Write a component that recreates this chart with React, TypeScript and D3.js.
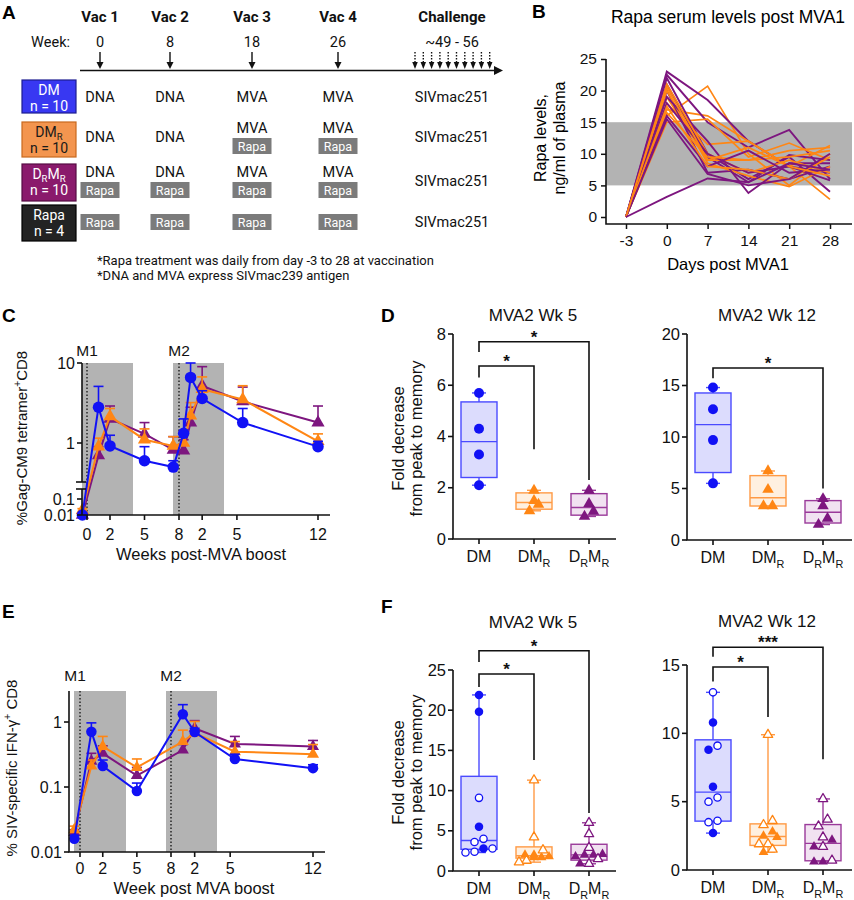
import { useEffect, useRef } from "react";
import * as d3 from "d3";

const FONT = "'Liberation Sans', Arial, Helvetica, sans-serif";
const FONT_A = "Roboto, 'Liberation Sans', Arial, sans-serif";

const BLUE = "#1111f5";
const ORANGE = "#ff8614";
const PURPLE = "#7d167f";
const BAND = "#b3b3b3";

// ---------- A: study design ----------
type Part = [string, "n" | "sub" | "sup"];
const vacHeaders = ["Vac 1", "Vac 2", "Vac 3", "Vac 4", "Challenge"];
const vacWeeks = ["0", "8", "18", "26", "~49 - 56"];
const groupNames: Part[][] = [
  [["DM", "n"]],
  [["DM", "n"], ["R", "sub"]],
  [["D", "n"], ["R", "sub"], ["M", "n"], ["R", "sub"]],
  [["Rapa", "n"]],
];
const groupN = ["n = 10", "n = 10", "n = 10", "n = 4"];
const vaccines = [
  ["DNA", "DNA", "MVA", "MVA"],
  ["DNA", "DNA", "MVA", "MVA"],
  ["DNA", "DNA", "MVA", "MVA"],
  ["", "", "", ""],
];
const rapaGiven = [
  [false, false, false, false],
  [false, false, true, true],
  [true, true, true, true],
  [true, true, true, true],
];
const challengeVirus = "SIVmac251";
const challengeCount = 10;
const footnotes = [
  "*Rapa treatment was daily from day -3 to 28 at vaccination",
  "*DNA and MVA express SIVmac239 antigen",
];

// ---------- B: rapa serum levels ----------
const daysB = [-3, 0, 7, 14, 21, 28];
const rapaDMR = [
  [0, 16, 20.7, 10, 5, 10],
  [0, 17, 16, 12, 8, 2.8],
  [0, 15, 15.5, 9.5, 11.7, 9],
  [0, 18, 11.5, 12, 8, 11.3],
  [0, 19, 9, 9, 10.5, 11],
  [0, 20, 8.5, 6.5, 4.8, 8],
  [0, 21, 10, 7, 9, 7],
  [0, 16.5, 9.5, 9, 9.5, 10.5],
  [0, 17.5, 8, 7.5, 6, 9.5],
  [0, 20.5, 9, 11, 8, 6.5],
];
const rapaDRMR = [
  [0, 23, 18.5, 12, 8, 7],
  [0, 22.5, 15, 11, 13.8, 6],
  [0, 22, 10, 6, 9.5, 4],
  [0, 21, 9.5, 5.5, 9.8, 9],
  [0, 20, 7, 7.5, 6, 8],
  [0, 19, 12, 3.8, 8.5, 8.5],
  [0, 18, 10, 7, 8, 5.8],
  [0, 16, 8, 10.5, 7, 7.5],
  [0, 15.5, 6.8, 5, 6, 10],
  [0, 3.2, 6.1, 5.5, 8.5, 7.5],
];
const ticksB = [0, 5, 10, 15, 20, 25];

// ---------- C: Gag-CM9 tetramer ----------
const weeksC = [-0.4, 1, 2, 5, 7.5, 8.4, 9, 10, 13.5, 20];
const tetDM = [0.01, 2.8, 0.92, 0.6, 0.5, 1.32, 6.6, 3.6, 1.8, 0.9];
const tetDMHi = [0.012, 5.1, 1.25, 0.9, 0.6, 2.0, 10, 4.5, 2.7, 1.05];
const tetDMR = [0.02, 0.9, 2.15, 1.1, 0.92, 1.0, 2.2, 4.7, 3.5, 1.05];
const tetDMRHi = [0.025, 1.15, 2.7, 1.5, 1.2, 1.4, 3.2, 6.7, 5.2, 1.3];
const tetDRMR = [0.01, 0.7, 2.0, 1.3, 0.82, 0.8, 1.8, 5.2, 3.3, 1.8];
const tetDRMRHi = [0.012, 0.9, 2.9, 1.8, 1.2, 1.1, 2.8, 9, 5.0, 2.9];
const weekTicks = [0, 2, 5, 8, 10, 13, 20];
const weekTickLabels = ["0", "2", "5", "8", "2", "5", "12"];

// ---------- E: IFN-g ----------
const weeksE = [-0.5, 1, 2, 5, 9, 10, 13.4, 20];
const ifnDM = [0.016, 0.71, 0.21, 0.087, 1.32, 0.7, 0.27, 0.195];
const ifnDMHi = [0.018, 0.97, 0.26, 0.115, 1.85, 0.8, 0.32, 0.22];
const ifnDMR = [0.022, 0.21, 0.42, 0.2, 0.5, 0.68, 0.35, 0.32];
const ifnDMRHi = [0.025, 0.26, 0.6, 0.27, 0.75, 1.02, 0.5, 0.45];
const ifnDRMR = [0.02, 0.25, 0.33, 0.15, 0.37, 0.8, 0.46, 0.42];
const ifnDRMRHi = [0.022, 0.33, 0.43, 0.2, 0.45, 1.05, 0.6, 0.52];

// ---------- D / F: fold decrease ----------
const boxGroups: Part[][] = [groupNames[0], groupNames[1], groupNames[2]];
const foldD5 = [[5.7, 4.3, 3.3, 2.1], [1.9, 1.5, 1.35, 1.1], [1.9, 1.38, 1.08, 0.88]];
const foldD12 = [[14.8, 12.7, 9.7, 5.5], [6.7, 4.9, 3.3, 3.3], [4.0, 3.3, 2.1, 1.5]];
const foldF5Filled = [[21.9, 19.8, 5.5, 2.8], [2.0, 2.0, 1.7, 1.8, 1.7], [2.0, 2.0, 1.8, 2.1, 0.9]];
const foldF5Open = [[9.1, 4.0, 3.6, 2.8, 2.4, 2.3], [11.3, 4.2, 2.6, 1.3, 1.1], [6.0, 4.6, 2.9, 1.5, 0.9]];
const foldF12Filled = [[10.8, 8.8, 6.1, 2.7], [2.4, 1.3, 2.5, 2.8], [2.2, 1.7, 0.6, 0.6]];
const foldF12Open = [[13.0, 9.1, 5.3, 5.0, 3.6, 3.5], [9.9, 3.6, 3.3, 1.9, 1.9, 1.5], [5.2, 3.7, 3.2, 2.4, 1.7, 0.7]];

type Bracket = { a: number; b: number; top: number; la: number; lb: number; label: string };
const sigD5: Bracket[] = [
  { a: 0, b: 2, top: 7.7, la: 7.3, lb: 2.3, label: "*" },
  { a: 0, b: 1, top: 6.75, la: 6.3, lb: 3.5, label: "*" },
];
const sigD12: Bracket[] = [{ a: 0, b: 2, top: 16.7, la: 15.7, lb: 5.0, label: "*" }];
const sigF5: Bracket[] = [
  { a: 0, b: 2, top: 27.4, la: 26, lb: 7.2, label: "*" },
  { a: 0, b: 1, top: 24.5, la: 22.9, lb: 13.8, label: "*" },
];
const sigF12: Bracket[] = [
  { a: 0, b: 2, top: 16.3, la: 15.6, lb: 8.1, label: "***" },
  { a: 0, b: 1, top: 14.85, la: 13.8, lb: 11.2, label: "*" },
];

const groupColors = [BLUE, ORANGE, PURPLE];
const boxStroke = ["#4a4aff", "#ff9a45", "#9a3a9a"];
const boxFill = ["#dcdcfd", "#fff0e0", "#f1e2f1"];
const groupShape = ["circle", "triangle", "triangle"];

type Sel = d3.Selection<any, any, any, any>;

function rich(t: Sel, parts: Part[], fs: number, subShift = 0.3) {
  const shift = (k: string) => (k === "sub" ? fs * subShift : k === "sup" ? -fs * 0.4 : 0);
  parts.forEach(([s, k], i) => {
    const prev = i > 0 ? parts[i - 1][1] : "n";
    t.append("tspan")
      .text(s)
      .attr("dy", shift(k) - shift(prev))
      .attr("font-size", k === "n" ? fs : fs * 0.68);
  });
  return t;
}

function marker(g: Sel, shape: string, cx: number, cy: number, size: number, color: string, filled: boolean) {
  const sw = filled ? 0 : 1.3;
  if (shape === "circle") {
    g.append("circle")
      .attr("cx", cx)
      .attr("cy", cy)
      .attr("r", filled ? size / 2 : size / 2 - 0.6)
      .attr("fill", filled ? color : "#fff")
      .attr("stroke", color)
      .attr("stroke-width", sw);
  } else {
    const s = filled ? size * 1.15 : size * 1.1;
    const h = (s * Math.sqrt(3)) / 2;
    const pts = [
      [cx, cy - (2 * h) / 3],
      [cx + s / 2, cy + h / 3],
      [cx - s / 2, cy + h / 3],
    ];
    g.append("path")
      .attr("d", "M" + pts.map((p) => p.join(",")).join("L") + "Z")
      .attr("fill", filled ? color : "#fff")
      .attr("stroke", color)
      .attr("stroke-width", sw)
      .attr("stroke-linejoin", "round");
  }
}

// GraphPad-style quartiles, (n+1) basis
function quart(sorted: number[], p: number) {
  const n = sorted.length;
  const pos = (n + 1) * p;
  if (pos <= 1) return sorted[0];
  if (pos >= n) return sorted[n - 1];
  const lo = Math.floor(pos);
  return sorted[lo - 1] + (pos - lo) * (sorted[lo] - sorted[lo - 1]);
}

// points that sit at nearly the same height are spread side by side
function swarm(vals: number[], y: (v: number) => number, thr: number, step: number) {
  const idx = vals.map((_, i) => i).sort((a, b) => vals[a] - vals[b]);
  const off = vals.map(() => 0);
  let row: number[] = [];
  const flush = () => {
    const st = row.length > 1 ? Math.min(step, 30 / (row.length - 1)) : 0;
    row.forEach((k, j) => (off[k] = (j - (row.length - 1) / 2) * st));
  };
  idx.forEach((k) => {
    if (row.length && Math.abs(y(vals[k]) - y(vals[row[0]])) > thr) {
      flush();
      row = [];
    }
    row.push(k);
  });
  flush();
  return off;
}

function letter(svg: Sel, s: string, x: number, y: number) {
  svg.append("text").attr("x", x).attr("y", y).attr("font-family", FONT).attr("font-weight", "bold").attr("font-size", 19).text(s);
}

function drawA(svg: Sel) {
  const g = svg.append("g").attr("font-family", FONT_A).attr("fill", "#111");
  const colX = [100, 170, 252, 338, 452];
  const rowY = [97, 137, 181, 222];
  const boxTop = [80, 122, 164, 205];
  const boxH = [33, 35, 37, 36];
  const fills = ["#3838f2", "#f3954f", "#8a1a6c", "#232323"];
  const strokes = ["#1d1d90", "#c8691f", "#560c44", "#000"];
  const txt = ["#fff", "#1a1a1a", "#fff", "#fff"];

  letter(svg, "A", 2, 19);
  vacHeaders.forEach((h, i) => {
    g.append("text").attr("x", colX[i]).attr("y", 22).attr("text-anchor", "middle").attr("font-weight", "bold").attr("font-size", 15).text(h);
    g.append("text").attr("x", colX[i]).attr("y", 47).attr("text-anchor", "middle").attr("font-size", 14.5).text(vacWeeks[i]);
  });
  g.append("text").attr("x", 70).attr("y", 47).attr("text-anchor", "end").attr("font-size", 14.5).text("Week:");

  const arrow = (x: number, dashed: boolean, w: number) => {
    g.append("line").attr("x1", x).attr("x2", x).attr("y1", 52).attr("y2", 63).attr("stroke", "#111").attr("stroke-width", 1.4).attr("stroke-dasharray", dashed ? "1.6,1.4" : null);
    g.append("path").attr("d", `M${x - w / 2},62L${x + w / 2},62L${x},69Z`).attr("fill", "#111");
  };
  colX.slice(0, 4).forEach((x) => arrow(x, false, 7));
  d3.range(challengeCount).forEach((i) => arrow(415 + i * 8.3, true, 5.5));
  g.append("line").attr("x1", 80).attr("x2", 496).attr("y1", 70.5).attr("y2", 70.5).attr("stroke", "#111").attr("stroke-width", 1.6);
  g.append("path").attr("d", "M494,66L503,70.5L494,75Z").attr("fill", "#111");

  groupNames.forEach((nm, r) => {
    g.append("rect").attr("x", 22).attr("y", boxTop[r]).attr("width", 54).attr("height", boxH[r]).attr("fill", fills[r]).attr("stroke", strokes[r]).attr("stroke-width", 1.2);
    rich(g.append("text").attr("x", 49).attr("y", boxTop[r] + 15).attr("text-anchor", "middle").attr("fill", txt[r]), nm, 14, 0.18);
    g.append("text").attr("x", 49).attr("y", boxTop[r] + 31).attr("text-anchor", "middle").attr("fill", txt[r]).attr("font-size", 14).text(groupN[r]);

    vaccines[r].forEach((v, c) => {
      const rapa = rapaGiven[r][c];
      const cy = rowY[r];
      if (v) {
        g.append("text").attr("x", colX[c]).attr("y", (rapa ? cy - 9 : cy) + 5).attr("text-anchor", "middle").attr("font-size", 14.5).text(v);
      }
      if (rapa) {
        const by = v ? cy + 9 : cy;
        g.append("rect").attr("x", colX[c] - 19.5).attr("y", by - 8).attr("width", 39).attr("height", 16).attr("fill", "#7b7b7b");
        g.append("text").attr("x", colX[c]).attr("y", by + 4.5).attr("text-anchor", "middle").attr("font-size", 12.5).attr("fill", "#fff").text("Rapa");
      }
    });
    g.append("text").attr("x", colX[4]).attr("y", rowY[r] + 5).attr("text-anchor", "middle").attr("font-size", 14.5).text(challengeVirus);
  });
  footnotes.forEach((f, i) => {
    g.append("text").attr("x", 97).attr("y", 265 + i * 15).attr("font-size", 13).text(f);
  });
}

function drawB(svg: Sel) {
  const g = svg.append("g").attr("font-family", FONT);
  letter(svg, "B", 532, 18);
  const x = d3.scalePoint<number>().domain(daysB).range([626, 830]);
  const y = d3.scaleLinear().domain([0, 25]).range([217, 59]);
  g.append("text").attr("x", 728).attr("y", 23).attr("text-anchor", "middle").attr("font-size", 17.5).text("Rapa serum levels post MVA1");
  g.append("rect").attr("x", 606).attr("y", y(15)).attr("width", 246).attr("height", y(5) - y(15)).attr("fill", BAND);

  const line = d3.line<number>().x((_, i) => x(daysB[i])!).y((d) => y(d));
  rapaDMR.forEach((s, i) => {
    g.append("path").attr("d", line(s)).attr("fill", "none").attr("stroke", ORANGE).attr("stroke-width", 1.7);
    g.append("path").attr("d", line(rapaDRMR[i])).attr("fill", "none").attr("stroke", PURPLE).attr("stroke-width", 1.9);
  });

  const ya = g.append("g").attr("transform", "translate(606,0)").call(d3.axisLeft(y).tickValues(ticksB).tickSize(5).tickPadding(4));
  ya.select(".domain").remove();
  const xa = g.append("g").attr("transform", "translate(0,224)").call(d3.axisBottom(x).tickSize(5).tickPadding(6).tickFormat((d) => String(d)));
  xa.select(".domain").remove();
  g.selectAll(".tick text").attr("font-size", 15.5).attr("font-family", FONT).attr("fill", "#111");
  g.selectAll(".tick line").attr("stroke", "#111").attr("stroke-width", 1.5);
  g.append("path").attr("d", "M606,59V224H852").attr("fill", "none").attr("stroke", "#111").attr("stroke-width", 1.6);
  g.append("text").attr("x", 728).attr("y", 270).attr("text-anchor", "middle").attr("font-size", 16.5).text("Days post MVA1");
  ["Rapa levels,", "ng/ml of plasma"].forEach((t, i) => {
    g.append("text").attr("transform", `translate(${546 + i * 19},138) rotate(-90)`).attr("text-anchor", "middle").attr("font-size", 16).text(t);
  });
}

type Series = { vals: number[]; hi: number[]; color: string; shape: string };

function timeCourse(
  g: Sel,
  weeks: number[],
  series: Series[],
  x: (v: number) => number,
  y: (v: number) => number,
  size: number,
) {
  const line = d3.line<number>().x((_, i) => x(weeks[i])).y((d) => y(d));
  series.forEach((s) => {
    g.append("path").attr("d", line(s.vals)).attr("fill", "none").attr("stroke", s.color).attr("stroke-width", 2);
    s.vals.forEach((v, i) => {
      const cx = x(weeks[i]);
      g.append("line").attr("x1", cx).attr("x2", cx).attr("y1", y(v)).attr("y2", y(s.hi[i])).attr("stroke", s.color).attr("stroke-width", 1.6);
      g.append("line").attr("x1", cx - 5).attr("x2", cx + 5).attr("y1", y(s.hi[i])).attr("y2", y(s.hi[i])).attr("stroke", s.color).attr("stroke-width", 1.6);
    });
    s.vals.forEach((v, i) => marker(g, s.shape, x(weeks[i]), y(v), size, s.color, true));
  });
}

function drawC(svg: Sel) {
  const g = svg.append("g").attr("font-family", FONT).attr("fill", "#111");
  letter(svg, "C", 2, 322);
  const x = d3.scaleLinear().domain([0, 8, 20]).range([87, 179, 318]);
  const yHi = d3.scaleLog().domain([1, 10]).range([443, 363]);
  const yLo = d3.scaleLog().domain([0.01, 0.1]).range([515, 499]);
  const y = (v: number) => (v >= 0.2 ? yHi(v) : yLo(v));

  g.append("rect").attr("x", 82).attr("y", 363).attr("width", 51).attr("height", 152).attr("fill", BAND);
  g.append("rect").attr("x", 173).attr("y", 363).attr("width", 51).attr("height", 152).attr("fill", BAND);
  [0, 8].forEach((w) => {
    g.append("line").attr("x1", x(w)).attr("x2", x(w)).attr("y1", 363).attr("y2", 515).attr("stroke", "#111").attr("stroke-width", 1.3).attr("stroke-dasharray", "1.5,2");
  });
  g.append("text").attr("x", x(0)).attr("y", 356).attr("text-anchor", "middle").attr("font-size", 15.5).text("M1");
  g.append("text").attr("x", x(8)).attr("y", 356).attr("text-anchor", "middle").attr("font-size", 15.5).text("M2");

  timeCourse(
    g,
    weeksC,
    [
      { vals: tetDRMR, hi: tetDRMRHi, color: PURPLE, shape: "triangle" },
      { vals: tetDMR, hi: tetDMRHi, color: ORANGE, shape: "triangle" },
      { vals: tetDM, hi: tetDMHi, color: BLUE, shape: "circle" },
    ],
    x,
    y,
    11.5,
  );

  // y axis is broken between 0.1 and 1
  const ax = g.append("g").attr("stroke", "#111").attr("stroke-width", 1.6);
  ax.append("line").attr("x1", 82).attr("x2", 82).attr("y1", 363).attr("y2", 482);
  ax.append("line").attr("x1", 82).attr("x2", 82).attr("y1", 489).attr("y2", 515);
  ax.append("line").attr("x1", 76).attr("x2", 86).attr("y1", 482).attr("y2", 482);
  ax.append("line").attr("x1", 76).attr("x2", 86).attr("y1", 489).attr("y2", 489);
  ax.append("line").attr("x1", 82).attr("x2", 330).attr("y1", 515).attr("y2", 515);
  const yt = [
    { v: 10, p: yHi(10) },
    { v: 1, p: yHi(1) },
    { v: 0.1, p: yLo(0.1) },
    { v: 0.01, p: yLo(0.01) },
  ];
  yt.forEach((t) => {
    ax.append("line").attr("x1", 77).attr("x2", 82).attr("y1", t.p).attr("y2", t.p);
    g.append("text").attr("x", 75).attr("y", t.p + 5.5).attr("text-anchor", "end").attr("font-size", 16).text(String(t.v));
  });
  weekTicks.forEach((w, i) => {
    ax.append("line").attr("x1", x(w)).attr("x2", x(w)).attr("y1", 515).attr("y2", 520);
    g.append("text").attr("x", x(w)).attr("y", 540).attr("text-anchor", "middle").attr("font-size", 16).text(weekTickLabels[i]);
  });
  g.append("text").attr("x", 201).attr("y", 560).attr("text-anchor", "middle").attr("font-size", 16.5).text("Weeks post-MVA boost");
  rich(
    g.append("text").attr("transform", "translate(27,438) rotate(-90)").attr("text-anchor", "middle"),
    [["%Gag-CM9 tetramer", "n"], ["+", "sup"], ["CD8", "n"]],
    15,
  );
}

function drawE(svg: Sel) {
  const g = svg.append("g").attr("font-family", FONT).attr("fill", "#111");
  letter(svg, "E", 2, 618);
  const x = d3.scaleLinear().domain([0, 8, 20]).range([80, 171, 313]);
  const y = d3.scaleLog().domain([0.01, 3]).range([852, 691]);

  g.append("rect").attr("x", 74).attr("y", 691).attr("width", 52).attr("height", 161).attr("fill", BAND);
  g.append("rect").attr("x", 166).attr("y", 691).attr("width", 51).attr("height", 161).attr("fill", BAND);
  [0, 8].forEach((w) => {
    g.append("line").attr("x1", x(w)).attr("x2", x(w)).attr("y1", 691).attr("y2", 852).attr("stroke", "#111").attr("stroke-width", 1.3).attr("stroke-dasharray", "1.5,2");
  });
  g.append("text").attr("x", 75).attr("y", 681).attr("text-anchor", "middle").attr("font-size", 15.5).text("M1");
  g.append("text").attr("x", x(8)).attr("y", 681).attr("text-anchor", "middle").attr("font-size", 15.5).text("M2");

  timeCourse(
    g,
    weeksE,
    [
      { vals: ifnDRMR, hi: ifnDRMRHi, color: PURPLE, shape: "triangle" },
      { vals: ifnDMR, hi: ifnDMRHi, color: ORANGE, shape: "triangle" },
      { vals: ifnDM, hi: ifnDMHi, color: BLUE, shape: "circle" },
    ],
    x,
    y,
    10.5,
  );

  const ax = g.append("g").attr("stroke", "#111").attr("stroke-width", 1.6);
  ax.append("path").attr("d", "M69,691V852H325").attr("fill", "none");
  [0.01, 0.1, 1].forEach((v) => {
    ax.append("line").attr("x1", 64).attr("x2", 69).attr("y1", y(v)).attr("y2", y(v));
    g.append("text").attr("x", 62).attr("y", y(v) + 5.5).attr("text-anchor", "end").attr("font-size", 16).text(String(v));
  });
  weekTicks.forEach((w, i) => {
    ax.append("line").attr("x1", x(w)).attr("x2", x(w)).attr("y1", 852).attr("y2", 857);
    g.append("text").attr("x", x(w)).attr("y", 874).attr("text-anchor", "middle").attr("font-size", 16).text(weekTickLabels[i]);
  });
  g.append("text").attr("x", 194).attr("y", 894).attr("text-anchor", "middle").attr("font-size", 16.5).text("Week post MVA boost");
  rich(
    g.append("text").attr("transform", "translate(17,768) rotate(-90)").attr("text-anchor", "middle"),
    [["% SIV-specific IFN-γ", "n"], ["+", "sup"], [" CD8", "n"]],
    15,
  );
}

type BoxCfg = {
  title: string;
  titleY: number;
  axisX: number;
  axisEnd: number;
  y0: number;
  yTop: number;
  yMax: number;
  step: number;
  filled: number[][];
  open: number[][];
  size: number;
  brackets: Bracket[];
  ylabel: boolean;
};

function boxPanel(svg: Sel, c: BoxCfg) {
  const g = svg.append("g").attr("font-family", FONT).attr("fill", "#111");
  const y = d3.scaleLinear().domain([0, c.yMax]).range([c.y0, c.yTop]);
  const x = d3.scalePoint<number>().domain([0, 1, 2]).range([c.axisX + 26, c.axisX + 136]);
  g.append("text").attr("x", c.axisX + 80).attr("y", c.titleY).attr("text-anchor", "middle").attr("font-size", 17).text(c.title);

  [0, 1, 2].forEach((k) => {
    const all = [...c.filled[k], ...c.open[k]];
    const sorted = all.slice().sort((a, b) => a - b);
    const q1 = quart(sorted, 0.25);
    const med = quart(sorted, 0.5);
    const q3 = quart(sorted, 0.75);
    const lo = sorted[0];
    const hi = sorted[sorted.length - 1];
    const cx = x(k)!;
    const col = boxStroke[k];
    g.append("rect").attr("x", cx - 18).attr("y", y(q3)).attr("width", 36).attr("height", y(q1) - y(q3)).attr("fill", boxFill[k]).attr("stroke", col).attr("stroke-width", 1.4);
    g.append("line").attr("x1", cx - 18).attr("x2", cx + 18).attr("y1", y(med)).attr("y2", y(med)).attr("stroke", col).attr("stroke-width", 1.4);
    [
      [q3, hi],
      [q1, lo],
    ].forEach(([a, b]) => {
      g.append("line").attr("x1", cx).attr("x2", cx).attr("y1", y(a)).attr("y2", y(b)).attr("stroke", col).attr("stroke-width", 1.4);
      g.append("line").attr("x1", cx - 7).attr("x2", cx + 7).attr("y1", y(b)).attr("y2", y(b)).attr("stroke", col).attr("stroke-width", 1.4);
    });
    const off = swarm(all, y, 7, 9);
    all.forEach((v, i) => {
      marker(g, groupShape[k], cx + off[i], y(v), c.size, groupColors[k], i < c.filled[k].length);
    });
  });

  c.brackets.forEach((b) => {
    const xa = x(b.a)!;
    const xb = x(b.b)!;
    g.append("path")
      .attr("d", `M${xa},${y(b.la)}V${y(b.top)}H${xb}V${y(b.lb)}`)
      .attr("fill", "none")
      .attr("stroke", "#111")
      .attr("stroke-width", 1.6);
    g.append("text").attr("x", (xa + xb) / 2).attr("y", y(b.top) + 1).attr("text-anchor", "middle").attr("font-size", 17).attr("font-weight", "bold").text(b.label);
  });

  const ax = g.append("g").attr("stroke", "#111").attr("stroke-width", 1.6);
  ax.append("path").attr("d", `M${c.axisX},${c.yTop}V${c.y0}H${c.axisEnd}`).attr("fill", "none");
  d3.range(0, c.yMax + 0.001, c.step).forEach((v) => {
    ax.append("line").attr("x1", c.axisX - 5).attr("x2", c.axisX).attr("y1", y(v)).attr("y2", y(v));
    g.append("text").attr("x", c.axisX - 7).attr("y", y(v) + 5.5).attr("text-anchor", "end").attr("font-size", 16.5).text(String(v));
  });
  boxGroups.forEach((nm, k) => {
    ax.append("line").attr("x1", x(k)!).attr("x2", x(k)!).attr("y1", c.y0).attr("y2", c.y0 + 5);
    rich(g.append("text").attr("x", x(k)!).attr("y", c.y0 + 23).attr("text-anchor", "middle"), nm, 16);
  });
  if (c.ylabel) {
    const cy = (c.y0 + c.yTop) / 2 + 2;
    ["Fold decrease", "from peak to memory"].forEach((t, i) => {
      g.append("text").attr("transform", `translate(${c.axisX - 49 + i * 18},${cy}) rotate(-90)`).attr("text-anchor", "middle").attr("font-size", 16.5).text(t);
    });
  }
}

export default function App() {
  const ref = useRef<SVGSVGElement>(null);

  useEffect(() => {
    if (!ref.current) return;
    const svg = d3.select(ref.current);
    svg.selectAll("*").remove();

    drawA(svg);
    drawB(svg);
    drawC(svg);
    drawE(svg);

    letter(svg, "D", 381, 322);
    boxPanel(svg, { title: "MVA2 Wk 5", titleY: 321, axisX: 453, axisEnd: 616, y0: 539, yTop: 334, yMax: 8, step: 2, filled: foldD5, open: [[], [], []], size: 10, brackets: sigD5, ylabel: true });
    boxPanel(svg, { title: "MVA2 Wk 12", titleY: 321, axisX: 687, axisEnd: 852, y0: 540, yTop: 334, yMax: 20, step: 5, filled: foldD12, open: [[], [], []], size: 10, brackets: sigD12, ylabel: false });
    letter(svg, "F", 381, 613);
    boxPanel(svg, { title: "MVA2 Wk 5", titleY: 628, axisX: 453, axisEnd: 616, y0: 871, yTop: 670, yMax: 25, step: 5, filled: foldF5Filled, open: foldF5Open, size: 8.5, brackets: sigF5, ylabel: true });
    boxPanel(svg, { title: "MVA2 Wk 12", titleY: 627, axisX: 687, axisEnd: 852, y0: 870, yTop: 665, yMax: 15, step: 5, filled: foldF12Filled, open: foldF12Open, size: 8.5, brackets: sigF12, ylabel: false });
  }, []);

  return (
    <svg
      ref={ref}
      width={854}
      height={900}
      style={{ position: "absolute", left: 0, top: 0, background: "#fff" }}
    />
  );
}
